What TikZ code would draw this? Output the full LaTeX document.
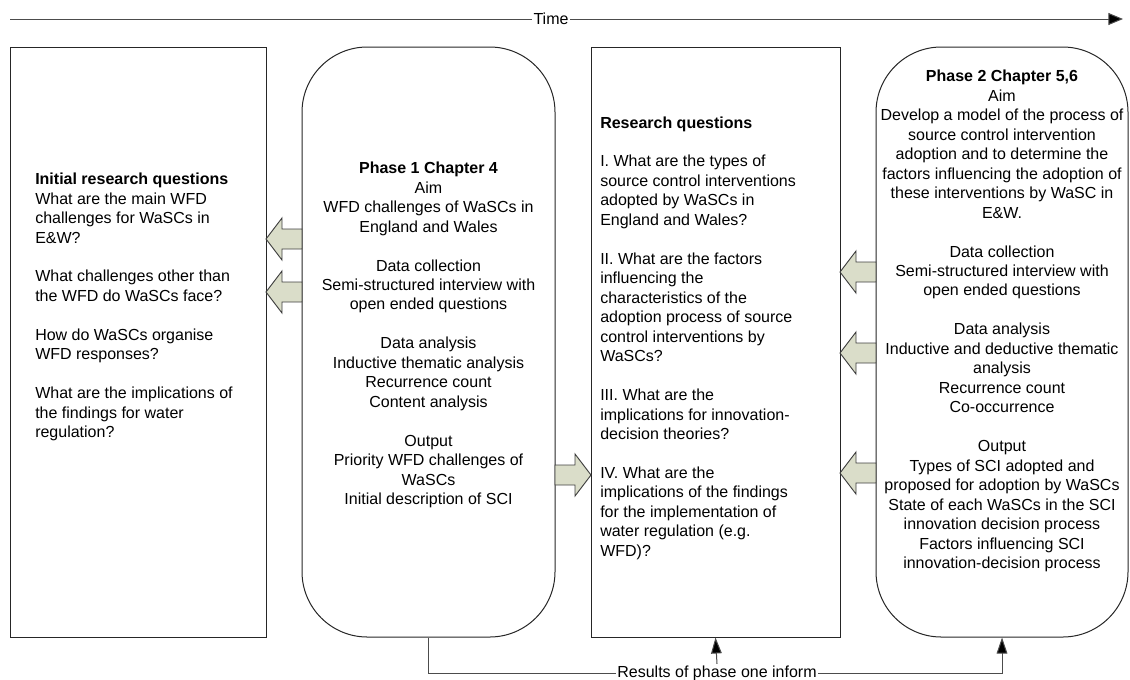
\documentclass[tikz,border=0pt]{standalone}
\usepackage{fontspec}
\setmainfont{Liberation Sans}
\usetikzlibrary{arrows.meta}
\begin{document}
\begin{tikzpicture}[x=0.75pt,y=-0.75pt,
  box/.style={draw=black!85,line width=0.75pt,inner sep=0pt},
  roundbox/.style={box,rounded corners=49pt},
  txt/.style={inner sep=0pt,font=\fontsize{12}{14.6}\selectfont},
  fat/.style={draw=black!75,line width=0.7pt,fill=olivefill,line join=miter},
  conn/.style={draw=black!70,line width=0.75pt},
  lbl/.style={fill=white,inner sep=1pt,font=\fontsize{12}{14}\selectfont}]
\definecolor{olivefill}{HTML}{DADDC9}
\useasboundingbox (0,0) rectangle (1130,679);
% boxes
\node[box,minimum width=256*0.75pt,minimum height=590*0.75pt] (b1) at (138,342) {};
\node[roundbox,minimum width=253*0.75pt,minimum height=590*0.75pt] (b2) at (428.5,342) {};
\node[box,minimum width=249*0.75pt,minimum height=590*0.75pt] (b3) at (715.5,342) {};
\node[roundbox,minimum width=252*0.75pt,minimum height=590*0.75pt] (b4) at (1002,342) {};
% texts
\node[txt,align=left,anchor=west] (t1) at (35,307) {\textbf{Initial research questions}\\What are the main WFD\\challenges for WaSCs in\\E\&W?\\[14.6pt]What challenges other than\\the WFD do WaSCs face?\\[14.6pt]How do WaSCs organise\\WFD responses?\\[14.6pt]What are the implications of\\the findings for water\\regulation?};
\node[txt,align=center] (t2) at (428.5,335) {\textbf{Phase 1 Chapter 4}\\Aim\\WFD challenges of WaSCs in\\England and Wales\\[14.6pt]Data collection\\Semi-structured interview with\\open ended questions\\[14.6pt]Data analysis\\Inductive thematic analysis\\Recurrence count\\Content analysis\\[14.6pt]Output\\Priority WFD challenges of\\WaSCs\\Initial description of SCI};
\node[txt,align=left,anchor=west] (t3) at (600,338) {\textbf{Research questions}\\[14.6pt]I. What are the types of\\source control interventions\\adopted by WaSCs in\\England and Wales?\\[14.6pt]II. What are the factors\\influencing the\\characteristics of the\\adoption process of source\\control interventions by\\WaSCs?\\[14.6pt]III. What are the\\implications for innovation-\\decision theories?\\[14.6pt]IV. What are the\\implications of the findings\\for the implementation of\\water regulation (e.g.\\WFD)?};
\node[txt,align=center] (t4) at (1002,321) {\textbf{Phase 2 Chapter 5,6}\\Aim\\Develop a model of the process of\\source control intervention\\adoption and to determine the\\factors influencing the adoption of\\these interventions by WaSC in\\E\&W.\\[14.6pt]Data collection\\Semi-structured interview with\\open ended questions\\[14.6pt]Data analysis\\Inductive and deductive thematic\\analysis\\Recurrence count\\Co-occurrence\\[14.6pt]Output\\Types of SCI adopted and\\proposed for adoption by WaSCs\\State of each WaSCs in the SCI\\innovation decision process\\Factors influencing SCI\\innovation-decision process};
% block arrows (left pointing)
\foreach \yy in {239,292} {
  \draw[fat] (266,\yy) -- (282,\yy-21) -- (282,\yy-10) -- (302,\yy-10) -- (302,\yy+10) -- (282,\yy+10) -- (282,\yy+21) -- cycle;
}
\foreach \yy in {272,353,473} {
  \draw[fat] (840,\yy) -- (856,\yy-21) -- (856,\yy-10) -- (876,\yy-10) -- (876,\yy+10) -- (856,\yy+10) -- (856,\yy+21) -- cycle;
}
% right pointing block arrow box2 -> box3
\draw[fat] (591,475) -- (575,454) -- (575,465) -- (555,465) -- (555,485) -- (575,485) -- (575,496) -- cycle;
% time line
\coordinate (ts) at (10,19);
\coordinate (te) at (1123,19);
\node[lbl] (time) at (551,19) {Time};
\draw[conn] (ts) -- (time.west);
\draw[conn,-{Triangle[length=11pt,width=9pt,fill=black]}] (time.east) -- (te);
% bottom feedback
\node[lbl] (res) at (717,673) {Results of phase one inform};
\draw[conn] (b2.south) |- (res.west);
\draw[conn,-{Triangle[length=12pt,width=8pt,fill=black]}] (res.east) -| (b4.south);
\draw[conn,-{Triangle[length=12pt,width=8pt,fill=black]}] (res.north) -- (b3.south);
\end{tikzpicture}
\end{document}
